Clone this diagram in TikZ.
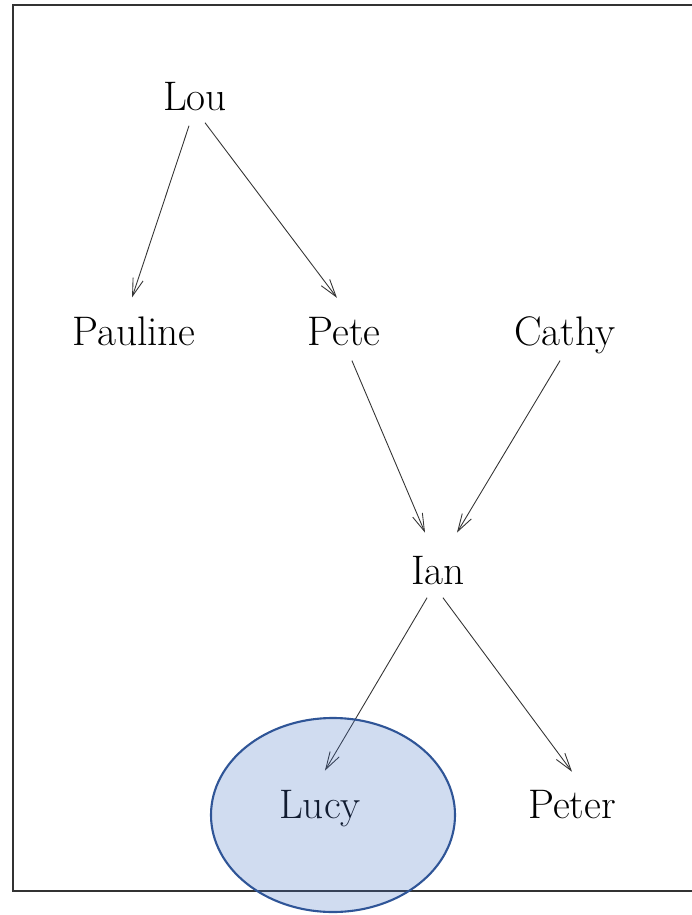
\documentclass[tikz,border=0pt]{standalone}
\usetikzlibrary{arrows.meta}
\definecolor{ovalblue}{RGB}{68,114,196}
\definecolor{ovalline}{RGB}{47,85,151}
\tikzset{
  person/.style={font=\fontsize{23.5}{28}\selectfont, inner sep=7pt, anchor=base},
  link/.style={-{Straight Barb[length=10pt,width=6pt]}, draw=black!80, line width=0.5pt}
}
\begin{document}
\begin{tikzpicture}[x=0.02cm,y=-0.02cm]
\useasboundingbox (0,0) rectangle (692,915);

\draw[line width=1.1pt, draw=black!80] (13,5) rectangle (720,891);

\node[person] (lou) at (195,111) {Lou};

\node[person] (pauline) at (134,345) {Pauline};
\node[person] (pete) at (344,345) {Pete};
\node[person] (cathy) at (565,345) {Cathy};

\node[person] (ian) at (438,584) {Ian};

\node[person] (lucy) at (320,818) {Lucy};
\node[person] (peter) at (572,818) {Peter};


\draw[link]  ([xshift=-3.4pt,yshift=-1pt]lou.south) --([xshift=-1.1pt,yshift=3.6pt]pauline.north);
\draw[link]  ([xshift=5.7pt,yshift=0.7pt]lou.south) --([xshift=-4pt,yshift=3.6pt]pete.north);
\draw[link]  ([xshift=4.5pt,yshift=-1.5pt]pete.south) --([xshift=-7.4pt,yshift=6pt]ian.north);
\draw[link]  ([xshift=-2.8pt,yshift=3.1pt]cathy.south) --([xshift=10.8pt,yshift=6pt]ian.north);
\draw[link]  ([xshift=-6.2pt,yshift=-0.4pt]ian.south) --([xshift=2.8pt,yshift=3.7pt]lucy.north);
\draw[link]  ([xshift=2.8pt,yshift=-0.4pt]ian.south) --([yshift=3.1pt]peter.north);

% highlight round Lucy
\draw[draw=ovalline, line width=1.2pt, fill=ovalblue, fill opacity=0.25] (333,815) ellipse (122 and 97);

\end{tikzpicture}
\end{document}
